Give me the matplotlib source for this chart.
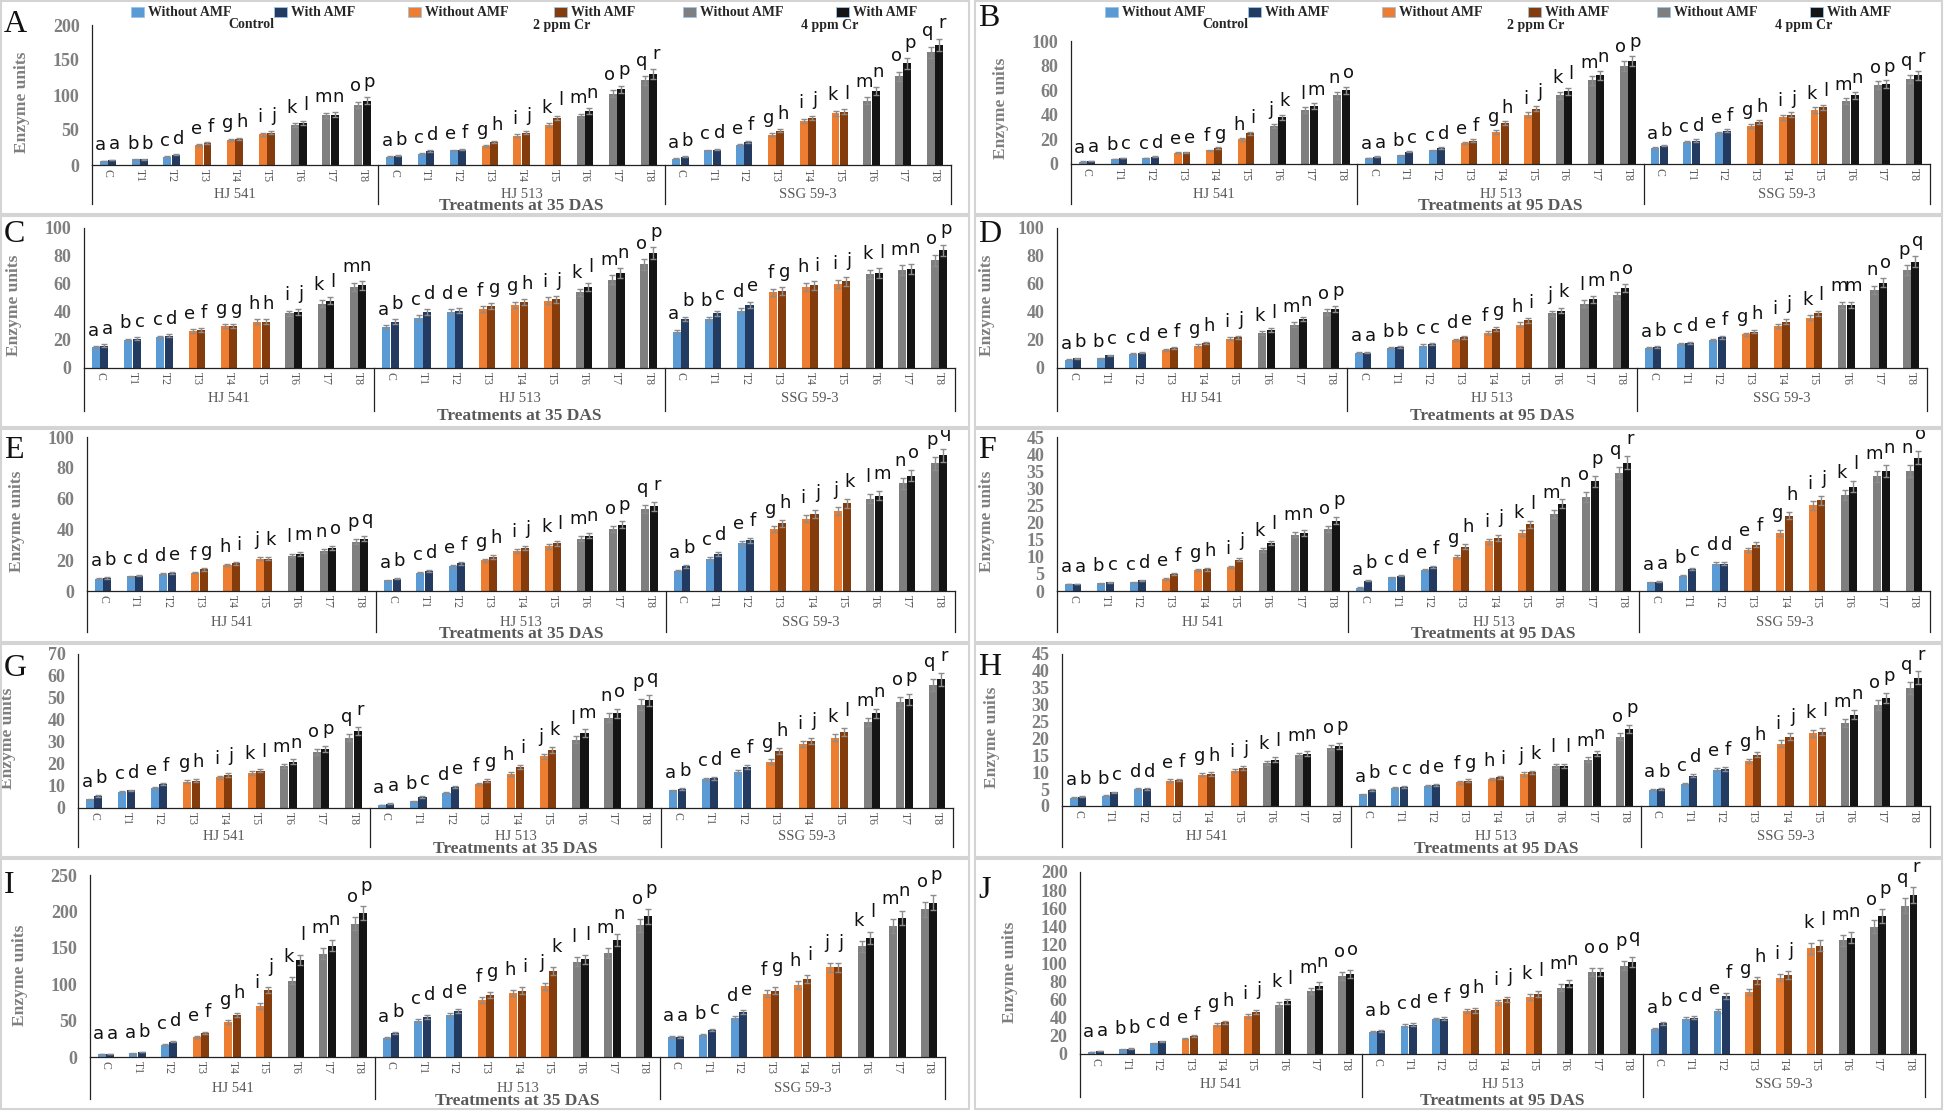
import numpy as np
import matplotlib
matplotlib.use("Agg")
import matplotlib.pyplot as plt
from matplotlib.patches import Rectangle
from matplotlib.transforms import blended_transform_factory

plt.rcParams["font.family"] = ["Liberation Serif", "DejaVu Serif"]

# ── data ──────────────────────────────────────────────────────────────
CULTIVARS = ["HJ 541", "HJ 513", "SSG 59-3"]
TREATMENTS = ["C", "T1", "T2", "T3", "T4", "T5", "T6", "T7", "T8"]
LEVEL_LABELS = ["Control", "2 ppm Cr", "4 ppm Cr"]
AMF_LABELS = ["Without AMF", "With AMF"]
ERR_PCT = 0.05  # Excel-style percentage error bars

A_WO = [6, 8, 12, 28, 36, 44, 57, 71, 86, 12, 16, 21, 27, 42, 57, 70, 102, 121, 9, 21, 28, 43, 63, 74, 92, 127, 161]
A_W = [7, 8, 15, 31, 37, 46, 60, 72, 92, 13, 20, 22, 33, 46, 67, 77, 108, 130, 12, 22, 33, 49, 67, 76, 106, 145, 172]
A_LET = "aabbcdefghijklmnop" "abcdefghijklmnopqr" "abcdefghijklmnopqr"

B_WO = [2, 4, 5, 9, 11, 20, 31, 44, 56, 5, 7, 11, 17, 26, 40, 56, 68, 80, 13, 18, 25, 31, 38, 44, 51, 64, 69]
B_W = [2.5, 5, 6, 9.5, 13, 25, 38, 47, 60, 6, 10, 13, 19, 33, 45, 59, 72, 84, 15, 19, 27, 34, 40, 46, 56, 65, 72]
B_LET = "aabccdeefghijklmno" "aabccdefghijklmnop" "abcdefghijklmnopqr"

C_WO = [15, 20, 22, 26.5, 30, 33, 39, 46, 58, 29, 36, 40, 42, 45, 48, 54, 63, 74, 26, 35, 41, 54, 58, 60, 67, 70, 77]
C_W = [16, 21, 23, 27, 30, 33, 40, 48, 59, 33, 40, 41, 44, 47, 49, 58, 68, 82, 35, 39, 45, 55, 59, 62, 68, 71, 84]
C_LET = "aabccdefgghhijklmn" "abcddefgghijklmnop" "abbcdefghiijklmnop"

D_WO = [6, 7, 10, 13, 16, 21, 25, 31, 40, 11, 14, 16, 20, 25, 31, 39, 46, 52, 14, 17, 20, 24, 30, 36, 45, 56, 70]
D_W = [7, 9, 11, 14, 18, 22, 27, 35, 42, 11, 15, 17, 22, 28, 34, 41, 49, 57, 15, 18, 22, 26, 33, 39, 45, 61, 76]
D_LET = "abbccdefghijklmnop" "aabbccdefghijklmno" "abcdefghijklmmnopq"

E_WO = [8, 9.5, 11, 12, 17, 21, 23, 26, 32, 7, 12, 16, 20, 26, 29, 34, 40, 53, 13, 21, 31, 40, 47, 52, 60, 70, 83]
E_W = [8.5, 10, 11.5, 14, 18, 21, 24, 28, 34, 8, 13, 18, 22, 28, 31, 36, 43, 55, 16, 24, 33, 44, 50, 57, 62, 75, 88]
E_LET = "abcddefghijklmnopq" "abcdefghijklmnopqr" "abcdefghijjklmnopq"

F_WO = [2, 2.2, 2.5, 3.5, 6, 7, 12, 16.5, 18, 1, 4, 6, 10, 14.5, 17, 22.5, 27.5, 34.5, 2.5, 4.5, 8, 12, 17, 25, 28, 33.5, 35]
F_W = [2, 2.5, 3.2, 5, 6.3, 9.2, 14, 17, 20.5, 3, 4.5, 7, 13, 15.5, 19.5, 25.5, 32, 37.5, 2.7, 6.5, 8, 13.5, 22, 26.5, 30.5, 35, 39]
F_LET = "aabccdefghijklmnop" "abcdefghijklmnopqr" "aabcddefghijklmnno"

G_WO = [4, 7.5, 9, 12, 14, 16, 19, 25.5, 32, 1.5, 3, 7, 11, 15.5, 23.5, 31, 41, 47, 8, 13, 16.5, 21, 29, 32, 39, 48, 56]
G_W = [5.5, 8, 11, 12.5, 15, 17, 21, 27, 35, 2, 5, 9.5, 12.5, 18.5, 26.5, 34, 43, 49, 8.5, 13.5, 18.5, 26, 30.5, 34.5, 43, 49.5, 58.5]
G_LET = "abcdefghijklmnopqr" "aabcdefghijklmnopq" "abcdefghijklmnopqr"

H_WO = [2.5, 3, 5, 7.5, 9.3, 10.5, 12.7, 15, 17.3, 3.5, 5.3, 5.8, 7, 8, 9.5, 11.8, 13.7, 20.5, 4.8, 6.5, 10.8, 13.3, 18.5, 21.5, 24.5, 30, 35]
H_W = [2.8, 4, 5, 7.7, 9.5, 11.3, 13.7, 15.5, 17.8, 4.7, 5.7, 6.2, 7.5, 8.5, 10, 11.8, 15.5, 22.8, 5, 9, 11, 15.2, 20.5, 22, 27, 32, 38]
H_LET = "abbcddefghijklmnop" "abccdefghijkllmnop" "abcdefghijklmnopqr"

I_WO = [4, 5, 17, 28, 48, 70, 105, 142, 183, 26, 50, 58, 78, 88, 97, 131, 143, 181, 28, 30, 53, 87, 99, 123, 152, 180, 203]
I_W = [4, 7, 21, 33, 58, 92, 133, 153, 198, 33, 55, 63, 85, 91, 118, 134, 161, 193, 28, 37, 62, 91, 107, 123, 164, 191, 212]
I_LET = "aaabcdefghijklmnop" "abcddefghijkllmnop" "aabcdefghijjklmnop"

J_WO = [2, 5, 12, 17, 32, 42, 54, 69, 86, 24, 31, 38, 47, 57, 63, 73, 90, 97, 27, 39, 47, 68, 84, 116, 125, 140, 163]
J_W = [3, 6, 14, 20, 35, 46, 58, 75, 88, 25, 32, 39, 48, 60, 66, 77, 90, 101, 34, 40, 64, 81, 87, 119, 128, 152, 175]
J_LET = "aabbcdefghijklmnoo" "abcdefghijklmnoopq" "abcdefghijklmnopqr"

# ── style ─────────────────────────────────────────────────────────────
W, H = 1944, 1111
COL_WO = ["#5B9BD5", "#ED7D31", "#7F7F7F"]
COL_W = ["#233B61", "#843C0C", "#141414"]
GRAY = "#7F7F7F"
DARK = "#595959"

# panel: (name, without, with, letters, ymax, ystep, DAS,
#         box px (x0, y0, x1, y1), axes px (left, top, right, bottom), letter top px)
PANELS = [
    ("A", A_WO, A_W, A_LET, 200, 50, 35, (1, 1, 969, 214), (92, 25, 951, 165), 10),
    ("B", B_WO, B_W, B_LET, 100, 20, 95, (975, 1, 1942, 214), (1071, 41, 1930, 164), 4),
    ("C", C_WO, C_W, C_LET, 100, 20, 35, (1, 216, 969, 427), (84, 228, 955, 368), 220),
    ("D", D_WO, D_W, D_LET, 100, 20, 95, (975, 216, 1942, 427), (1057, 228, 1927, 368), 220),
    ("E", E_WO, E_W, E_LET, 100, 20, 35, (1, 429, 969, 642), (87, 437, 955, 591), 436),
    ("F", F_WO, F_W, F_LET, 45, 5, 95, (975, 429, 1942, 642), (1057, 437, 1930, 591), 436),
    ("G", G_WO, G_W, G_LET, 70, 10, 35, (1, 644, 969, 857), (78, 654, 953, 808), 654),
    ("H", H_WO, H_W, H_LET, 45, 5, 95, (975, 644, 1942, 857), (1062, 654, 1930, 806), 653),
    ("I", I_WO, I_W, I_LET, 250, 50, 35, (1, 859, 969, 1109), (90, 875, 945, 1057), 871),
    ("J", J_WO, J_W, J_LET, 200, 20, 95, (975, 859, 1942, 1109), (1080, 872, 1925, 1054), 876),
]

fig = plt.figure(figsize=(W / 100, H / 100), dpi=100)
fig.patch.set_facecolor("white")

n_t = len(TREATMENTS)
x = np.arange(n_t * len(CULTIVARS))
level = (x % n_t) // 3
bw, off = 0.25, 0.13

for name, wo, wi, lets, ymax, ystep, das, box, axp, ltop in PANELS:
    bx0, by0, bx1, by1 = box
    fig.add_artist(Rectangle((bx0 / W, 1 - by1 / H), (bx1 - bx0) / W, (by1 - by0) / H,
                             transform=fig.transFigure, fill=False, ec="#d4d4d4", lw=1.5))
    fig.text((bx0 + 3) / W, 1 - ltop / H, name, fontsize=23, va="top", ha="left", color="#111")

    l, t, r, b = axp
    ax = fig.add_axes([l / W, 1 - b / H, (r - l) / W, (b - t) / H])
    hpx = b - t
    wo = np.array(wo, float)
    wi = np.array(wi, float)

    ekw = dict(ecolor="#8c8c8c", elinewidth=1, capsize=2.4, capthick=1)
    ax.bar(x - off, wo, bw, color=[COL_WO[k] for k in level], yerr=ERR_PCT * wo, error_kw=ekw, zorder=2)
    ax.bar(x + off, wi, bw, color=[COL_W[k] for k in level], yerr=ERR_PCT * wi, error_kw=ekw, zorder=2)

    for i in range(len(x)):
        for j, (v, dx) in enumerate(((wo[i], -0.22), (wi[i], 0.22))):
            ax.text(x[i] + dx, v * (1 + ERR_PCT) + 0.11 * ymax, lets[2 * i + j],
                    ha="center", va="center", fontsize=13, family="DejaVu Sans",
                    color="#111", clip_on=False)

    ax.set_xlim(-0.5, len(x) - 0.5)
    ax.set_ylim(0, ymax)
    ax.set_yticks(np.arange(0, ymax + 0.1, ystep))
    ax.set_xticks(x)
    ax.set_xticklabels(TREATMENTS * len(CULTIVARS), rotation=270, fontsize=8.5, color=DARK)
    ax.tick_params(axis="x", length=0, pad=3)
    ax.tick_params(axis="y", length=0, pad=9, labelsize=13, labelcolor=GRAY)
    for lab in ax.get_yticklabels():
        lab.set_fontweight("bold")
    for s in ("top", "right"):
        ax.spines[s].set_visible(False)
    for s in ("left", "bottom"):
        ax.spines[s].set_linewidth(0.9)
        ax.spines[s].set_color("#222")
    ax.set_ylabel("Enzyme units", fontsize=12.5, fontweight="bold", color=GRAY)
    ax.yaxis.set_label_coords(-62 / (r - l), 0.45)

    # title sits just inside the panel frame, cultivar names just above it
    title_off = min(47.5, by1 - b - 8)
    name_off = min(31, title_off - 12)
    sep_off = min(43, title_off - 2)

    tr = blended_transform_factory(ax.transData, ax.transAxes)
    for xs in (-0.5, n_t - 0.5, 2 * n_t - 0.5, 3 * n_t - 0.5):
        ax.plot([xs, xs], [0, -sep_off / hpx], transform=tr, color="#222", lw=0.9, clip_on=False)
    for k, cv in enumerate(CULTIVARS):
        ax.text(k * n_t + (n_t - 1) / 2, -name_off / hpx, cv, transform=tr, ha="center",
                va="center", fontsize=10.5, color=DARK)
    ax.text(0.5, -title_off / hpx, f"Treatments at {das} DAS", transform=ax.transAxes, ha="center",
            va="center", fontsize=12.5, fontweight="bold", color=DARK)

    # legend strip on the two top panels
    if name in ("A", "B"):
        px0 = bx0
        patch_x = [130, 273, 407, 553, 682, 835]
        group_cx = [250, 561, 829]
        for k in range(6):
            c = (COL_WO if k % 2 == 0 else COL_W)[k // 2]
            fig.add_artist(Rectangle(((px0 + patch_x[k]) / W, 1 - 17 / H), 13 / W, 10 / H,
                                     transform=fig.transFigure, fc=c, ec="#9dc3e6", lw=0.6))
            fig.text((px0 + patch_x[k] + 17) / W, 1 - 12 / H, AMF_LABELS[k % 2], fontsize=10,
                     fontweight="bold", va="center", ha="left", color="#262626")
        for k, g in enumerate(LEVEL_LABELS):
            fig.text((px0 + group_cx[k]) / W, 1 - 25 / H, g, fontsize=10, fontweight="bold",
                     va="center", ha="center", color="#262626")

fig.savefig("out.png", dpi=100, facecolor="white")
